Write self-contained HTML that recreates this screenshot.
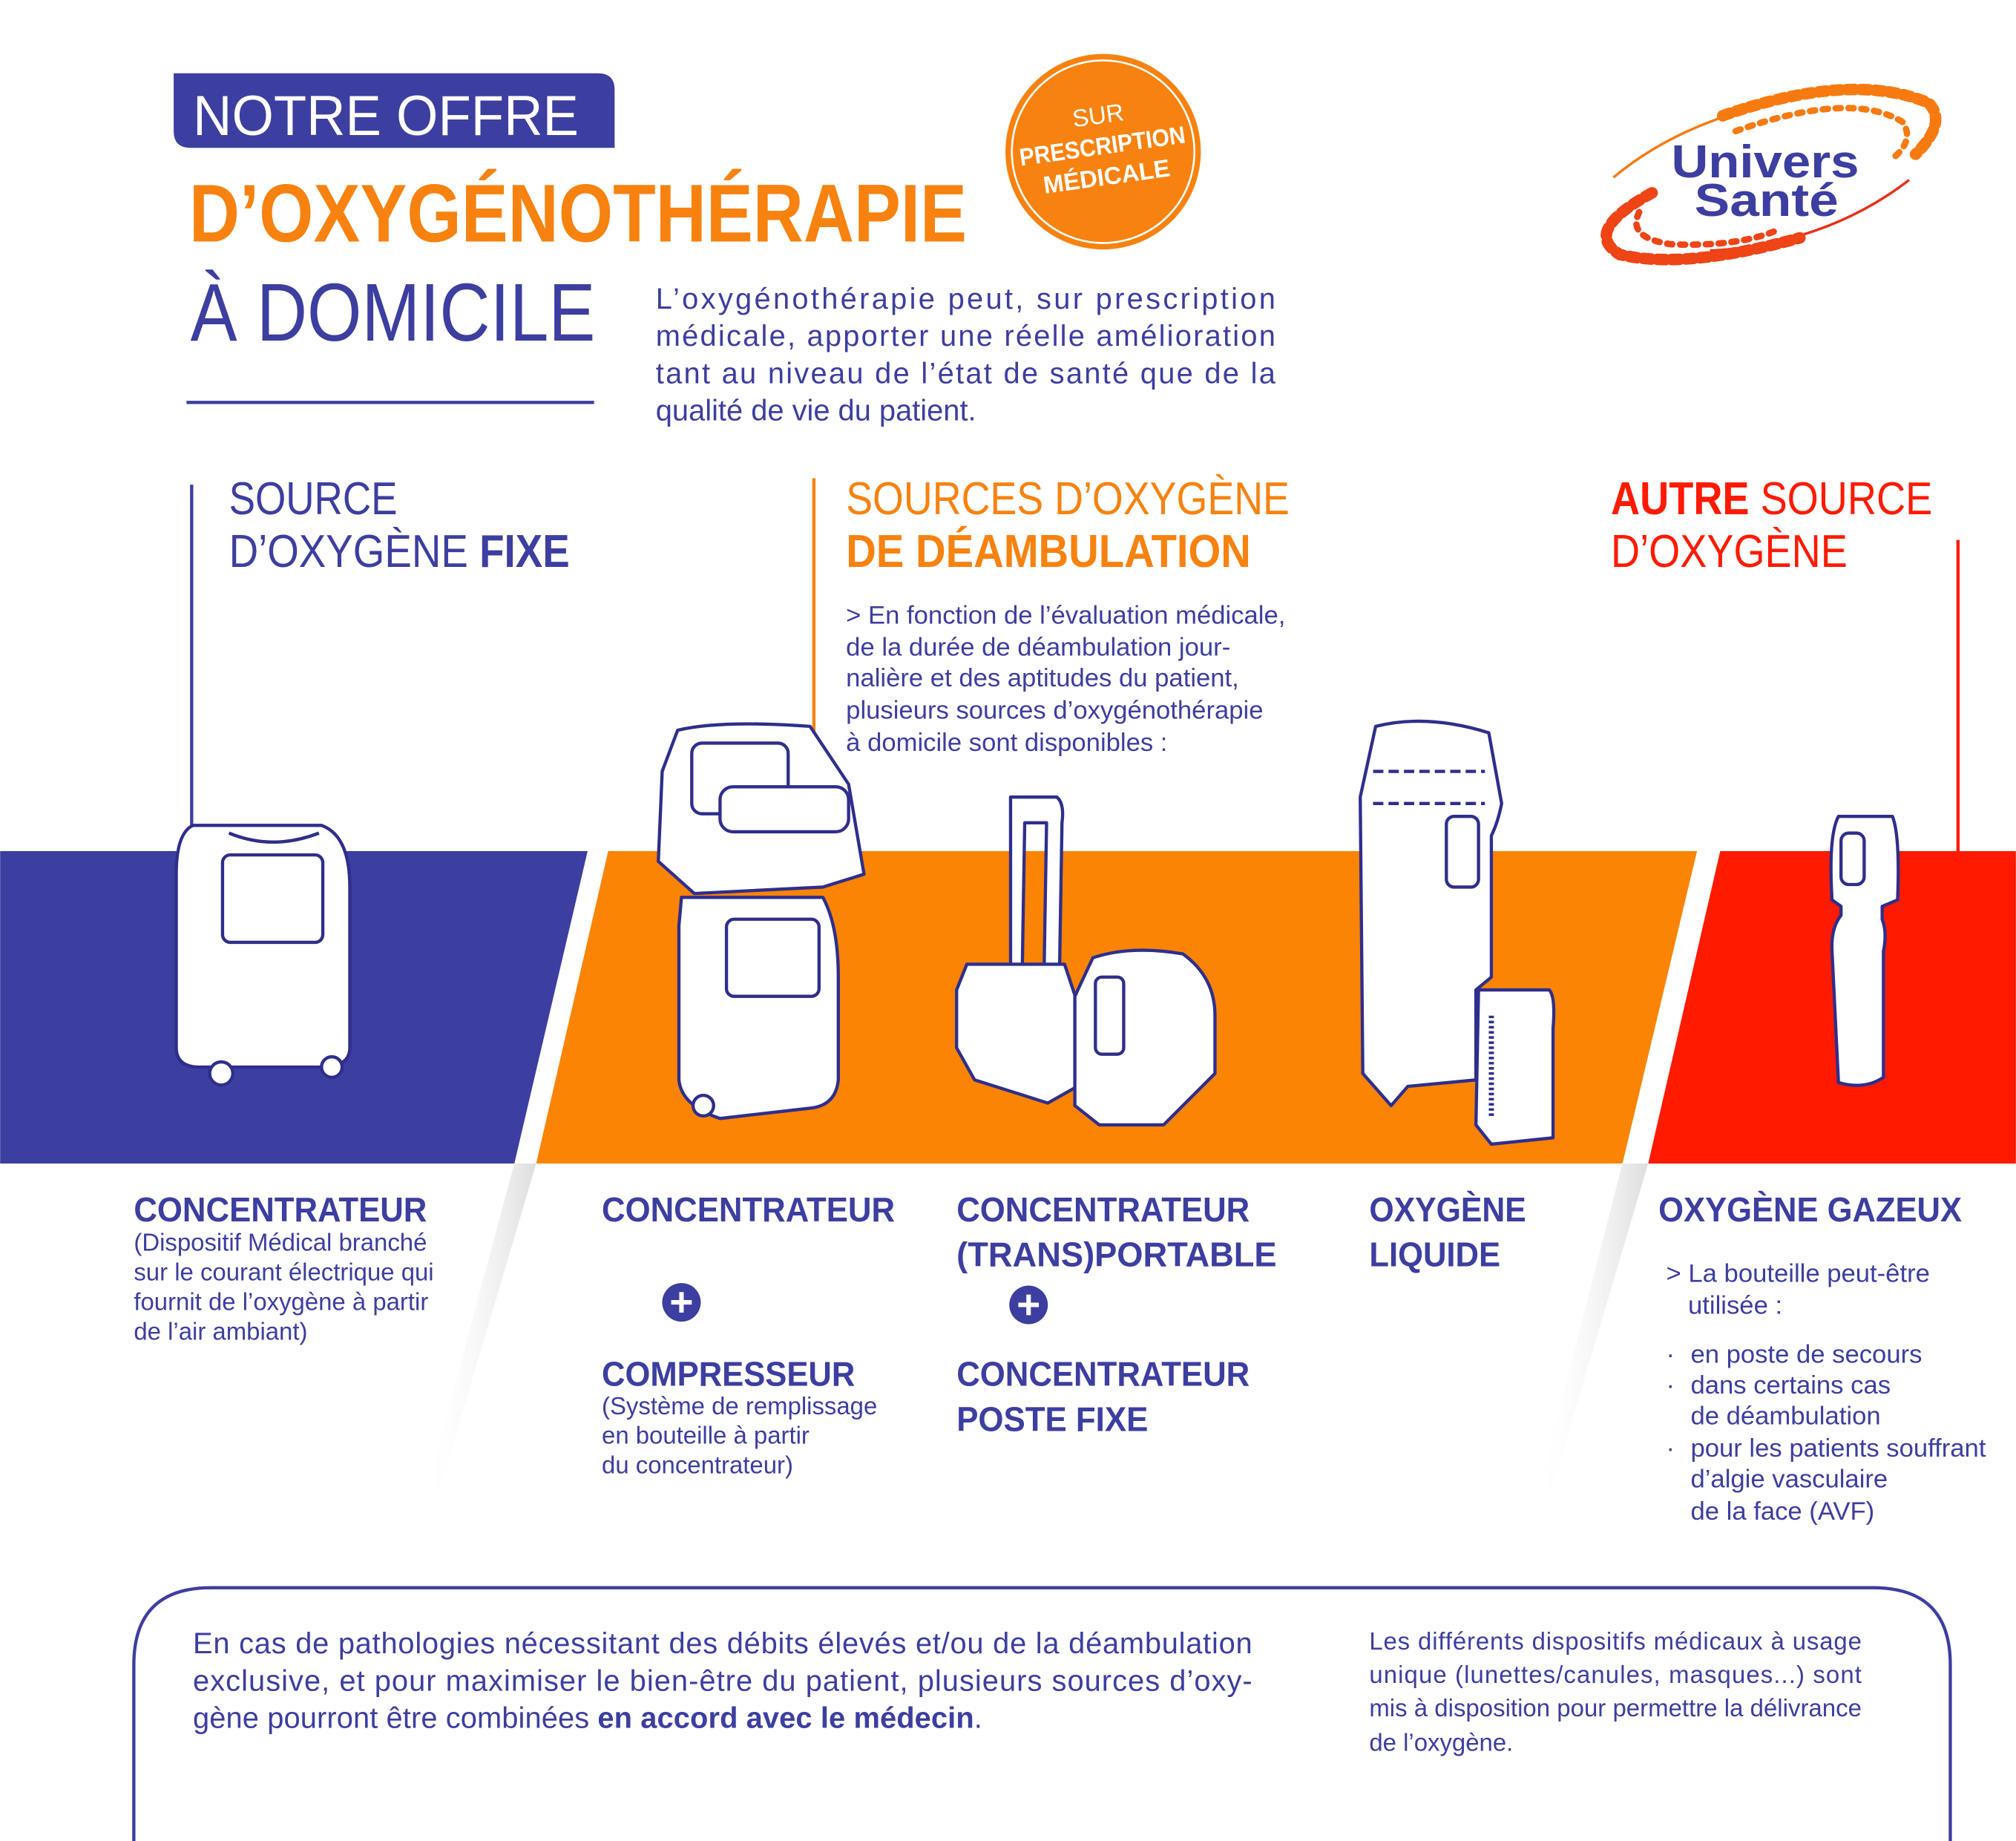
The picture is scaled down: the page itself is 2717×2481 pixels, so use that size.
<!DOCTYPE html>
<html><head><meta charset="utf-8"><style>
html,body{margin:0;padding:0;background:#fff;}
svg{display:block;}
text{font-family:"Liberation Sans","DejaVu Sans",sans-serif;}
</style></head><body>
<svg width="2717" height="2481" viewBox="0 0 1568 1432" xmlns="http://www.w3.org/2000/svg">
<defs>
<linearGradient id="sh" x1="0" y1="0" x2="1" y2="0">
<stop offset="0" stop-color="#fff" stop-opacity="0"/><stop offset="1" stop-color="#ddd" stop-opacity="1"/>
</linearGradient>
</defs>
<rect width="1568" height="1432" fill="#fff"/>

<!-- Header -->
<path d="M135 57 H465 Q478 57 478 70 V115 H148 Q135 115 135 102 Z" fill="#3c3ea0"/>
<text x="150" y="105" font-size="44" fill="#fff" textLength="300" lengthAdjust="spacingAndGlyphs">NOTRE OFFRE</text>
<text x="147" y="188" font-size="64" font-weight="bold" fill="#f7820f" textLength="605" lengthAdjust="spacingAndGlyphs">D’OXYGÉNOTHÉRAPIE</text>
<text x="148" y="265" font-size="64" fill="#3c3ea0" textLength="315" lengthAdjust="spacingAndGlyphs">À DOMICILE</text>
<line x1="145" y1="313" x2="462" y2="313" stroke="#3c3ea0" stroke-width="2.5"/>

<g font-size="23" fill="#3c3ea0">
<text x="510" y="240" textLength="482" lengthAdjust="spacing">L’oxygénothérapie peut, sur prescription</text>
<text x="510" y="269" textLength="482" lengthAdjust="spacing">médicale, apporter une réelle amélioration</text>
<text x="510" y="298" textLength="482" lengthAdjust="spacing">tant au niveau de l’état de santé que de la</text>
<text x="510" y="327">qualité de vie du patient.</text>
</g>

<!-- circle -->
<circle cx="858" cy="118" r="76" fill="#f7820f"/>
<circle cx="858" cy="118" r="71" fill="none" stroke="#fff" stroke-width="1.5"/>
<g transform="rotate(-8 858 118)" fill="#fff" text-anchor="middle">
<text x="858" y="96" font-size="19">SUR</text>
<text x="858" y="120" font-size="19" font-weight="bold" textLength="130" lengthAdjust="spacingAndGlyphs">PRESCRIPTION</text>
<text x="858" y="144" font-size="19" font-weight="bold">MÉDICALE</text>
</g>

<!-- logo -->
<g>
<path d="M1255 138 Q1330 75 1470 68" fill="none" stroke="#f77a10" stroke-width="2"/>
<path d="M1340 90 Q1440 55 1500 80 Q1515 95 1490 120" fill="none" stroke="#f77a10" stroke-width="9" stroke-dasharray="6 5" stroke-linecap="round"/>
<path d="M1350 102 Q1440 70 1480 95 Q1490 110 1470 125" fill="none" stroke="#f77a10" stroke-width="5" stroke-dasharray="4 6" stroke-linecap="round"/>
<path d="M1485 140 Q1420 190 1330 195" fill="none" stroke="#e8301a" stroke-width="2"/>
<path d="M1285 150 Q1230 180 1260 198 Q1310 210 1400 185" fill="none" stroke="#ee4416" stroke-width="9" stroke-dasharray="6 5" stroke-linecap="round"/>
<path d="M1275 165 Q1265 185 1300 190 Q1350 192 1380 180" fill="none" stroke="#ee4416" stroke-width="5" stroke-dasharray="4 6" stroke-linecap="round"/>
<text x="1300" y="138" font-size="36" font-weight="bold" fill="#3c3ea0" textLength="146" lengthAdjust="spacingAndGlyphs">Univers</text>
<text x="1318" y="168" font-size="36" font-weight="bold" fill="#3c3ea0" textLength="112" lengthAdjust="spacingAndGlyphs">Santé</text>
</g>

<!-- section headings -->
<line x1="149" y1="377" x2="149" y2="662" stroke="#3c3ea0" stroke-width="2.5"/>
<text x="178" y="400" font-size="36" fill="#3c3ea0" textLength="131" lengthAdjust="spacingAndGlyphs">SOURCE</text>
<text x="178" y="441" font-size="36" fill="#3c3ea0" textLength="265" lengthAdjust="spacingAndGlyphs">D’OXYGÈNE <tspan font-weight="bold">FIXE</tspan></text>

<line x1="633" y1="372" x2="633" y2="662" stroke="#f7820f" stroke-width="2.5"/>
<text x="658" y="400" font-size="36" fill="#f7820f" textLength="345" lengthAdjust="spacingAndGlyphs">SOURCES D’OXYGÈNE</text>
<text x="658" y="441" font-size="36" font-weight="bold" fill="#f7820f" textLength="315" lengthAdjust="spacingAndGlyphs">DE DÉAMBULATION</text>
<g font-size="20" fill="#3c3ea0">
<text x="658" y="485">&gt; En fonction de l’évaluation médicale,</text>
<text x="658" y="510">de la durée de déambulation jour-</text>
<text x="658" y="534">nalière et des aptitudes du patient,</text>
<text x="658" y="559">plusieurs sources d’oxygénothérapie</text>
<text x="658" y="584">à domicile sont disponibles :</text>
</g>

<line x1="1523" y1="420" x2="1523" y2="662" stroke="#ff1a00" stroke-width="2.5"/>
<text x="1253" y="400" font-size="36" fill="#ff1a00" textLength="250" lengthAdjust="spacingAndGlyphs"><tspan font-weight="bold">AUTRE</tspan> SOURCE</text>
<text x="1253" y="441" font-size="36" fill="#ff1a00" textLength="184" lengthAdjust="spacingAndGlyphs">D’OXYGÈNE</text>

<!-- shadows below slants -->
<polygon points="400,905 417,905 340,1165 330,1165" fill="url(#sh)"/>
<polygon points="1262,905 1282,905 1205,1165 1195,1165" fill="url(#sh)"/>

<!-- bands -->
<polygon points="0,662 457,662 400,905 0,905" fill="#3c3ea0"/>
<polygon points="473,662 1320,662 1262,905 417,905" fill="#fb8404"/>
<polygon points="1338,662 1568,662 1568,905 1282,905" fill="#ff1a00"/>

<!-- devices -->
<g fill="#fff" stroke="#2e2e8c" stroke-width="2.5" stroke-linejoin="round">
<!-- fixed concentrator -->
<path d="M150 642 H250 Q272 650 272 690 V815 Q272 830 250 830 H155 Q137 830 137 815 V680 Q137 648 150 642 Z"/>
<path d="M178 648 Q212 662 248 648" fill="none"/>
<rect x="173" y="665" width="78" height="68" rx="6"/>
<circle cx="172" cy="835" r="9"/><circle cx="258" cy="830" r="8"/>

<!-- concentrator + compressor -->
<path d="M527 568 Q560 560 630 565 L660 610 L672 680 L640 690 L540 695 L512 670 L515 600 Z"/>
<rect x="538" y="578" width="75" height="55" rx="8"/>
<rect x="560" y="612" width="100" height="35" rx="10"/>
<path d="M530 698 H640 Q652 720 652 760 V840 Q650 860 630 862 L560 870 Q530 860 528 840 V720 Z"/>
<rect x="565" y="715" width="72" height="60" rx="6"/>
<circle cx="547" cy="860" r="8"/>

<!-- portable -->
<path d="M786 620 H822 Q828 625 826 640 L824 760 H812 L814 640 H797 L795 760 H786 Z"/>
<path d="M752 750 H828 L838 780 V845 L815 858 L758 840 L744 815 V770 Z"/>
<path d="M850 745 Q880 735 920 742 Q945 760 945 790 V835 L905 875 H855 L836 860 V775 Z"/>
<rect x="852" y="760" width="22" height="60" rx="5"/>

<!-- liquid oxygen -->
<path d="M1070 565 Q1110 555 1158 570 L1168 625 Q1165 640 1160 650 V760 L1148 770 V840 L1095 845 L1082 860 L1060 835 L1058 620 Z"/>
<path d="M1068 600 H1155 M1068 625 H1155" fill="none" stroke-dasharray="8 4"/>
<rect x="1125" y="635" width="25" height="55" rx="6"/>
<path d="M1150 770 H1205 Q1210 775 1208 800 V885 L1160 890 L1148 875 Z"/>
<path d="M1160 790 V870" fill="none" stroke-dasharray="2 2" stroke-width="4"/>

<!-- gas bottle -->
<path d="M1430 635 H1472 Q1478 650 1476 700 L1464 705 V715 Q1468 725 1465 740 V838 Q1450 848 1430 842 L1425 740 Q1424 722 1432 712 V705 L1425 700 Q1422 650 1430 635 Z"/>
<rect x="1432" y="648" width="18" height="40" rx="6"/>
</g>

<!-- labels -->
<g fill="#3c3ea0">
<g font-size="27" font-weight="bold">
<text x="104" y="950" textLength="228" lengthAdjust="spacingAndGlyphs">CONCENTRATEUR</text>
<text x="468" y="950" textLength="228" lengthAdjust="spacingAndGlyphs">CONCENTRATEUR</text>
<text x="468" y="1078" textLength="197" lengthAdjust="spacingAndGlyphs">COMPRESSEUR</text>
<text x="744" y="950" textLength="228" lengthAdjust="spacingAndGlyphs">CONCENTRATEUR</text>
<text x="744" y="985" textLength="249" lengthAdjust="spacingAndGlyphs">(TRANS)PORTABLE</text>
<text x="744" y="1078" textLength="228" lengthAdjust="spacingAndGlyphs">CONCENTRATEUR</text>
<text x="744" y="1113" textLength="149" lengthAdjust="spacingAndGlyphs">POSTE FIXE</text>
<text x="1065" y="950" textLength="122" lengthAdjust="spacingAndGlyphs">OXYGÈNE</text>
<text x="1065" y="985" textLength="102" lengthAdjust="spacingAndGlyphs">LIQUIDE</text>
<text x="1290" y="950" textLength="236" lengthAdjust="spacingAndGlyphs">OXYGÈNE GAZEUX</text>
</g>
<g font-size="19">
<text x="104" y="973">(Dispositif Médical branché</text>
<text x="104" y="996">sur le courant électrique qui</text>
<text x="104" y="1019">fournit de l’oxygène à partir</text>
<text x="104" y="1042">de l’air ambiant)</text>
<text x="468" y="1100">(Système de remplissage</text>
<text x="468" y="1123">en bouteille à partir</text>
<text x="468" y="1146">du concentrateur)</text>
<text x="1296" y="997" font-size="20">&gt; La bouteille peut-être</text>
<text x="1313" y="1022" font-size="20">utilisée :</text>
<g font-size="20">
<text x="1296" y="1060">·</text><text x="1315" y="1060">en poste de secours</text>
<text x="1296" y="1084">·</text><text x="1315" y="1084">dans certains cas</text>
<text x="1315" y="1108">de déambulation</text>
<text x="1296" y="1133">·</text><text x="1315" y="1133">pour les patients souffrant</text>
<text x="1315" y="1157">d’algie vasculaire</text>
<text x="1315" y="1182">de la face (AVF)</text>
</g>
</g>
<circle cx="530" cy="1013" r="15"/><circle cx="800" cy="1015" r="15"/>
</g>
<g stroke="#fff" stroke-width="3.5"><path d="M522 1013 H538 M530 1005 V1021"/><path d="M792 1015 H808 M800 1007 V1023"/></g>

<!-- bottom box -->
<path d="M104 1432 V1295 Q104 1235 164 1235 H1457 Q1517 1235 1517 1295 V1432" fill="none" stroke="#3c3ea0" stroke-width="2.5"/>
<g fill="#3c3ea0">
<text x="150" y="1286" font-size="23" textLength="824" lengthAdjust="spacing">En cas de pathologies nécessitant des débits élevés et/ou de la déambulation</text>
<text x="150" y="1315" font-size="23" textLength="824" lengthAdjust="spacing">exclusive, et pour maximiser le bien-être du patient, plusieurs sources d’oxy-</text>
<text x="150" y="1344" font-size="23" textLength="614" lengthAdjust="spacing">gène pourront être combinées <tspan font-weight="bold">en accord avec le médecin</tspan>.</text>
<g font-size="19">
<text x="1065" y="1283" textLength="383" lengthAdjust="spacing">Les différents dispositifs médicaux à usage</text>
<text x="1065" y="1309" textLength="383" lengthAdjust="spacing">unique (lunettes/canules, masques...) sont</text>
<text x="1065" y="1335" textLength="383" lengthAdjust="spacing">mis à disposition pour permettre la délivrance</text>
<text x="1065" y="1362">de l’oxygène.</text>
</g>
</g>
</svg>
</body></html>
